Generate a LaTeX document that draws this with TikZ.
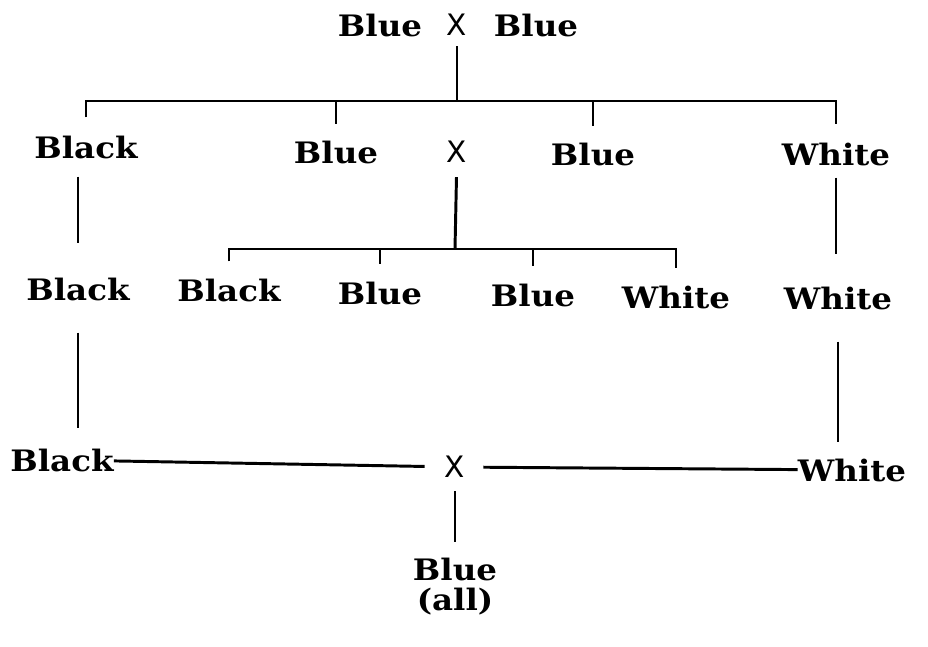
\documentclass[tikz,border=0pt]{standalone}
\usepackage{fontspec}
\newfontfamily\traitfont{DejaVu Serif}[FakeStretch=1.1]
\newfontfamily\crossfont{DejaVu Sans}
\usetikzlibrary{calc}

\begin{document}
\begin{tikzpicture}[
   x=0.025cm, y=-0.025cm,
   trait/.style = {font=\traitfont\bfseries\fontsize{21}{21.3}\selectfont,
                   inner sep=0pt},
   cross/.style = {font=\crossfont\fontsize{21}{21.3}\selectfont,
                   inner sep=0pt},
   link/.style  = {line width=2.1pt}
]
\useasboundingbox (0,0) rectangle (928,646);
% parents
\node[trait] (p1) at (380,25) {Blue};
\node[cross] (m1) at (457,25) {X};
\node[trait] (p2) at (536,25) {Blue};
% first generation
\node[trait] (blk2)  at (86,147)  {Black};
\node[trait] (blu2a) at (336,152) {Blue};
\node[cross] (m2)    at (457,152) {X};
\node[trait] (blu2b) at (593,154) {Blue};
\node[trait] (wht2)  at (836,154) {White};
% second generation
\node[trait] (blk3)  at (78,289)  {Black};
\node[trait] (blk3b) at (229,290) {Black};
\node[trait] (blu3a) at (380,293) {Blue};
\node[trait] (blu3b) at (533,295) {Blue};
\node[trait] (wht3b) at (676,297) {White};
\node[trait] (wht3)  at (838,298) {White};
% third generation
\node[trait] (blk4) at (62,460)  {Black};
\node[cross] (m3)   at (455,467) {X};
\node[trait] (wht4) at (852,470) {White};
\node[trait, align=center, anchor=north] (res) at (455,558) {Blue\\(all)};

\coordinate (bar1) at (457,101);
\coordinate (bar2) at (455,249);
% first cross
\draw[link, shorten <=2.5mm] (m1) -- (bar1);
\draw[link, shorten <=4.5mm, shorten >=4.5mm] (blk2.north) |- (bar1) -| (wht2.north);
\foreach \n in {blu2a,blu2b}
   \draw[link, shorten >=4mm] (\n.north |- bar1) -- (\n.north);
% second cross
\draw[link, shorten <=3.5mm] (m2) -- (bar2);
\draw[link, shorten <=4.25mm, shorten >=4.25mm] (blk3b.north) |- (bar2) -| (wht3b.north);
\foreach \n in {blu3a,blu3b}
   \draw[link, shorten >=4.25mm] (\n.north |- bar2) -- (\n.north);
% pure lines
\draw[link, shorten <=4.5mm, shorten >=8.5mm] (blk3.north |- blk2.south) -- (blk3.north);
\draw[link, shorten <=3mm, shorten >=8mm] (wht2.south) -- (wht2.south |- wht3.north);
\draw[link, shorten <=8mm, shorten >=5mm] (blk3.south) -- (blk3.south |- blk4.north);
\draw[link, shorten <=8mm, shorten >=4mm] (wht3.south) -- (wht3.south |- wht4.north);
% last cross
\draw[link, shorten >=5mm] (blk4) -- (m3);
\draw[link, shorten <=4.5mm] (m3) -- (wht4);
\draw[link, shorten <=3.25mm, shorten >=4mm] (m3) -- (res);
\end{tikzpicture}
\end{document}
